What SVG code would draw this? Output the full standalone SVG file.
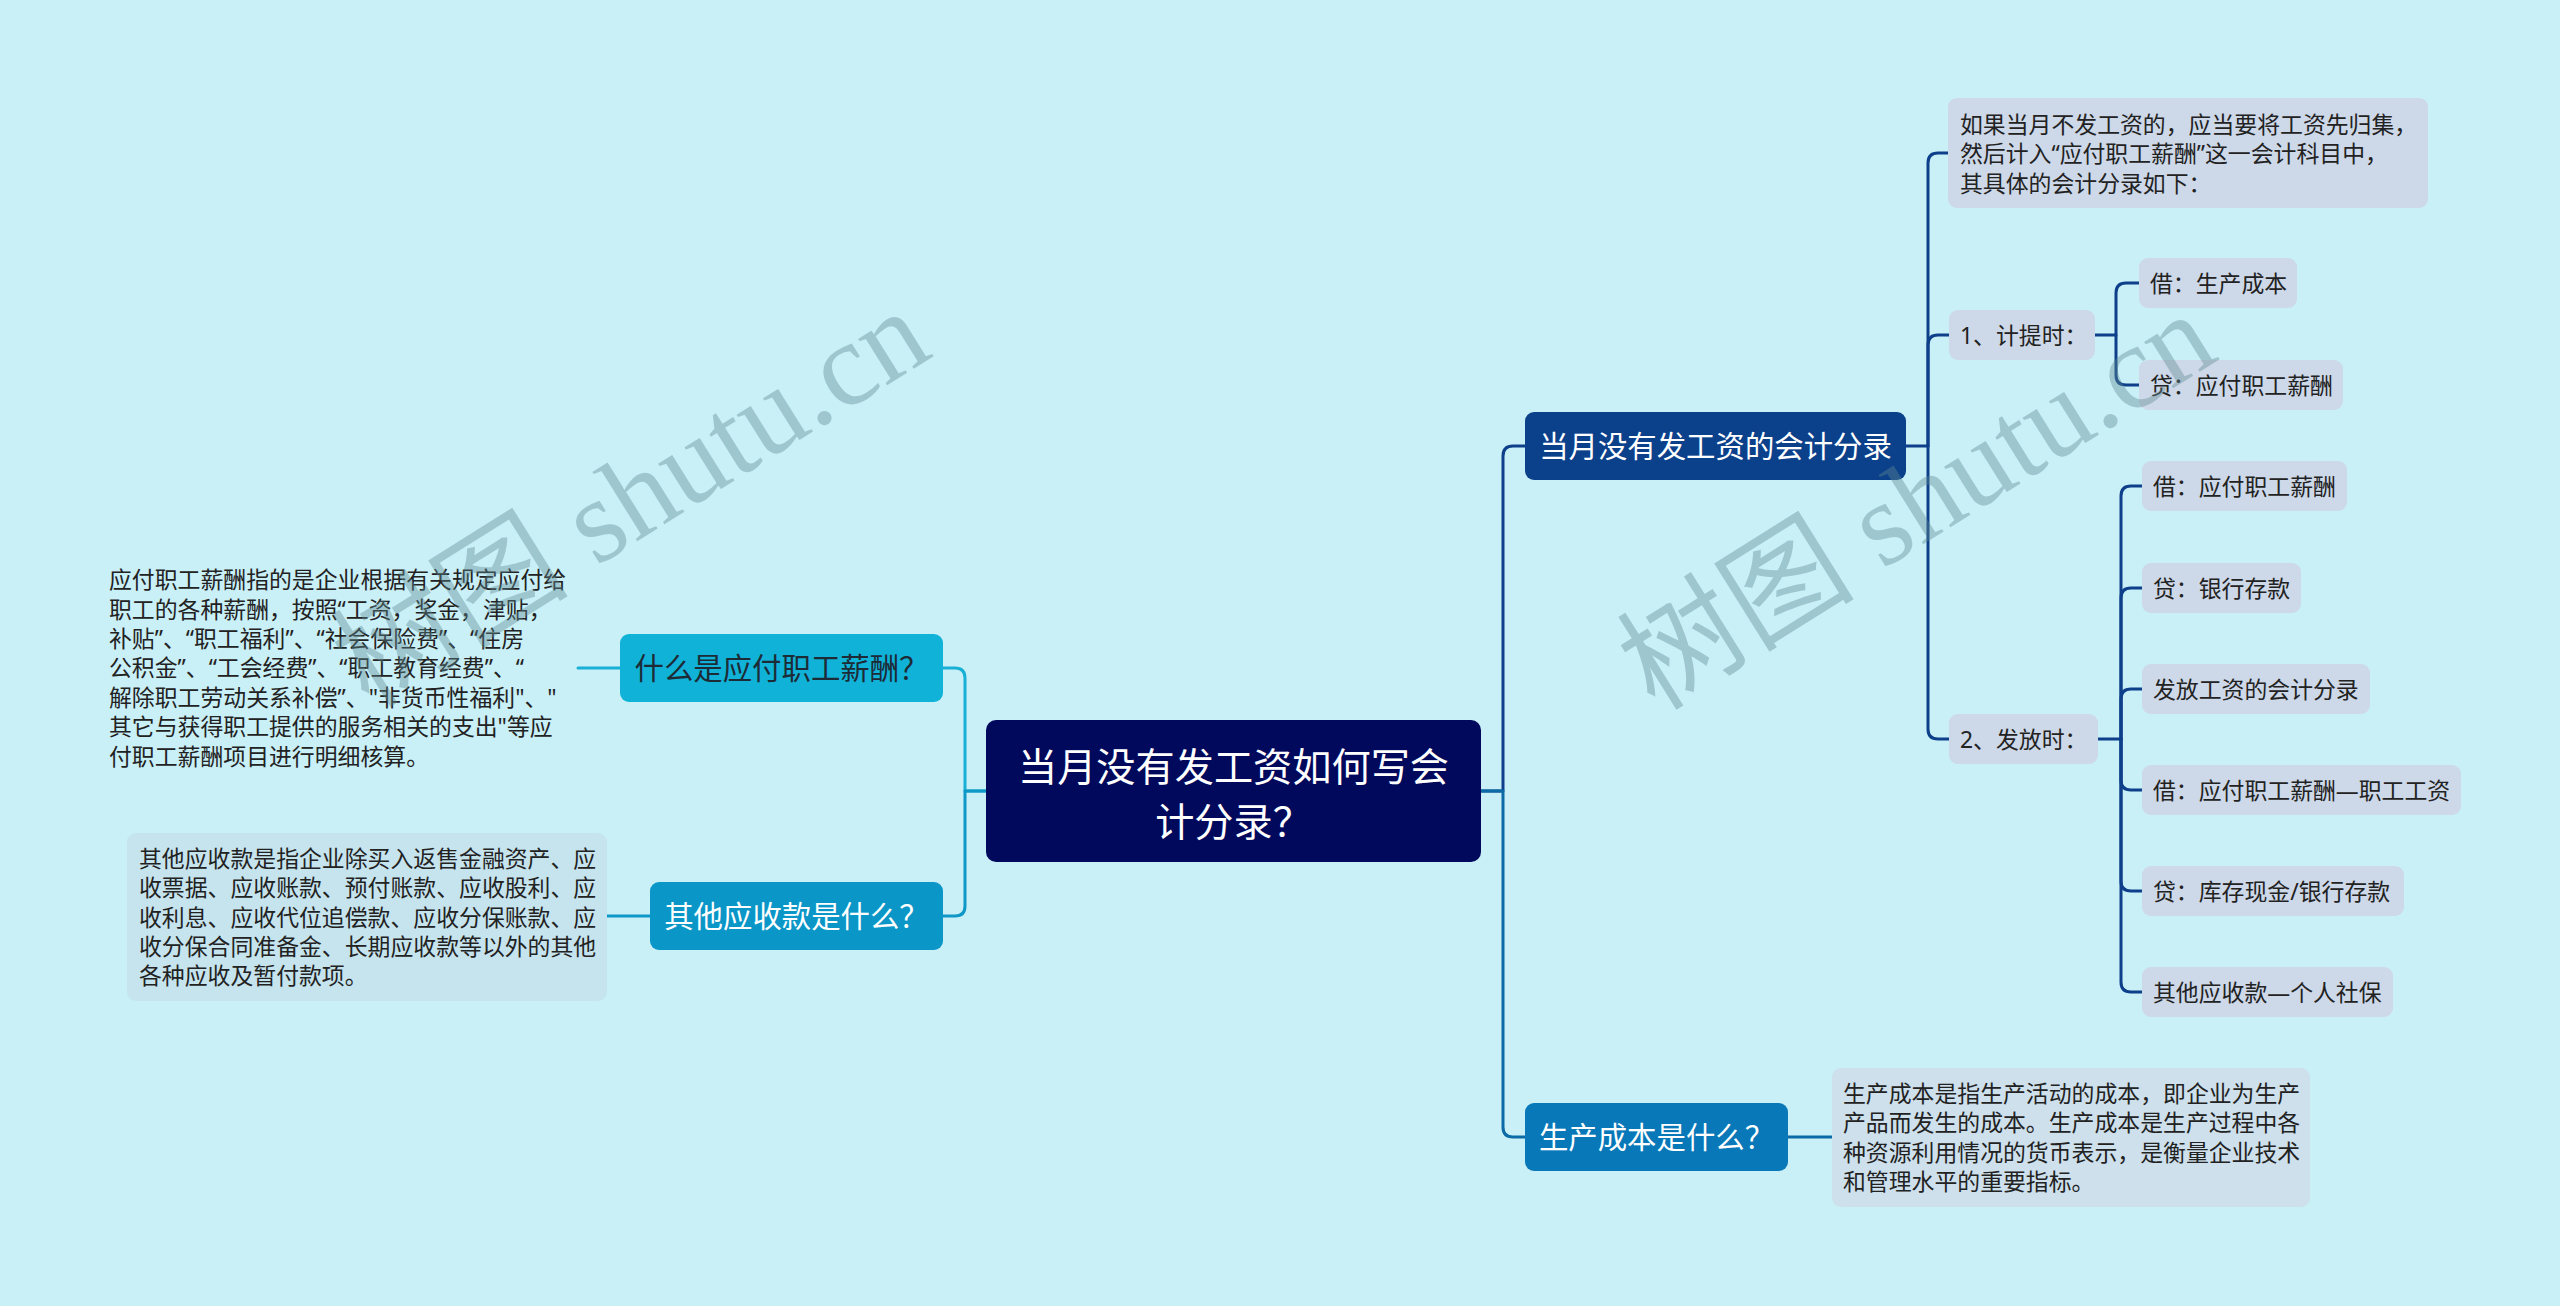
<svg xmlns="http://www.w3.org/2000/svg" width="2560" height="1306" viewBox="0 0 2560 1306">
<defs>
<style>
.body{font-family:'Noto Sans','Noto Sans CJK SC',sans-serif;font-size:22.86px;fill:#222;dominant-baseline:central}
.topic{font-family:'Noto Sans','Noto Sans CJK SC',sans-serif;font-size:29.4px;fill:#fff;dominant-baseline:central;text-anchor:middle}
.root{font-family:'Noto Sans','Noto Sans CJK SC',sans-serif;font-size:39.2px;fill:#fff;dominant-baseline:central;text-anchor:middle}
.leaf{fill:#cdd8e8}
.note{fill:#cde0ec}
.cn{fill:none;stroke-width:3;stroke-linecap:round;stroke-linejoin:round}
.dk{stroke:#0d3f8a}
.wm{font-family:'Liberation Serif','Noto Sans CJK SC',serif;font-size:119px;fill:#5f8a92;fill-opacity:0.4}
</style>
</defs>
<rect x="0" y="0" width="2560" height="1306" fill="#c9eff7"/>

<g id="connectors">
<path class="cn" stroke="#19b0d6" d="M986,791 H965 V678 Q965,668 955,668 H943"/>
<path class="cn" stroke="#0f97c8" d="M986,791 H965 V906 Q965,916 955,916 H943"/>
<path class="cn" stroke="#19b0d6" d="M620,668 H578"/>
<path class="cn" stroke="#0f97c8" d="M650,916 H607"/>
<path class="cn dk" d="M1481,791 H1503 V456 Q1503,446 1513,446 H1525"/>
<path class="cn" stroke="#0a6ba6" d="M1481,791 H1503 V1127 Q1503,1137 1513,1137 H1525"/>
<path class="cn" stroke="#0a6ba6" d="M1788,1137 H1832"/>
<path class="cn dk" d="M1906,446 H1928 V163 Q1928,153 1938,153 H1948"/>
<path class="cn dk" d="M1928,446 V345 Q1928,335 1938,335 H1949"/>
<path class="cn dk" d="M1928,446 V729 Q1928,739 1938,739 H1949"/>
<path class="cn dk" d="M2095,335 H2116 V293 Q2116,283 2126,283 H2139"/>
<path class="cn dk" d="M2116,335 V375 Q2116,385 2126,385 H2139"/>
<path class="cn dk" d="M2098,739 H2121 V496 Q2121,486 2131,486 H2142"/>
<path class="cn dk" d="M2121,739 V598 Q2121,588 2131,588 H2142"/>
<path class="cn dk" d="M2121,739 V699 Q2121,689 2131,689 H2142"/>
<path class="cn dk" d="M2121,739 V780 Q2121,790 2131,790 H2142"/>
<path class="cn dk" d="M2121,739 V881 Q2121,891 2131,891 H2142"/>
<path class="cn dk" d="M2121,739 V982 Q2121,992 2131,992 H2142"/>
</g>

<g id="root">
<rect x="986" y="720" width="495" height="142" rx="10" fill="#01095c"/>
<text class="root" x="1233.5" y="765">当月没有发工资如何写会</text>
<text class="root" x="1233.5" y="820">计分录？</text>
</g>

<g id="topic-left-1">
<rect x="620" y="634" width="323" height="68" rx="9" fill="#10b2d8"/>
<text class="topic" x="781.5" y="668" style="fill:#1d2b36">什么是应付职工薪酬？</text>
</g>
<g id="note-left-1">
<text class="body" x="109" y="579.7">应付职工薪酬指的是企业根据有关规定应付给</text>
<text class="body" x="109" y="609.1">职工的各种薪酬，按照“工资，奖金，津贴，</text>
<text class="body" x="109" y="638.5">补贴”、“职工福利”、“社会保险费”、“住房</text>
<text class="body" x="109" y="667.9">公积金”、“工会经费”、“职工教育经费”、“</text>
<text class="body" x="109" y="697.3">解除职工劳动关系补偿”、"非货币性福利"、"</text>
<text class="body" x="109" y="726.7">其它与获得职工提供的服务相关的支出"等应</text>
<text class="body" x="109" y="756.1">付职工薪酬项目进行明细核算。</text>
</g>

<g id="topic-left-2">
<rect x="650" y="882" width="293" height="68" rx="9" fill="#0a96c7"/>
<text class="topic" x="796.5" y="916">其他应收款是什么？</text>
</g>
<g id="note-left-2">
<rect x="127" y="833" width="480" height="168" rx="9" fill="#c6e4ee"/>
<text class="body" x="139" y="858.2">其他应收款是指企业除买入返售金融资产、应</text>
<text class="body" x="139" y="887.6">收票据、应收账款、预付账款、应收股利、应</text>
<text class="body" x="139" y="917">收利息、应收代位追偿款、应收分保账款、应</text>
<text class="body" x="139" y="946.4">收分保合同准备金、长期应收款等以外的其他</text>
<text class="body" x="139" y="975.8">各种应收及暂付款项。</text>
</g>

<g id="topic-right-1">
<rect x="1525" y="412" width="381" height="68" rx="9" fill="#0b408b"/>
<text class="topic" x="1715.5" y="446">当月没有发工资的会计分录</text>
</g>

<g id="note-right-top">
<rect x="1948" y="98" width="480" height="110" rx="9" class="leaf"/>
<text class="body" x="1960" y="124">如果当月不发工资的，应当要将工资先归集，</text>
<text class="body" x="1960" y="153.5">然后计入“应付职工薪酬”这一会计科目中，</text>
<text class="body" x="1960" y="183">其具体的会计分录如下：</text>
</g>

<g id="sub-1">
<rect x="1949" y="310" width="146" height="50" rx="9" class="leaf"/>
<text class="body" x="1960" y="335">1、计提时：</text>
</g>
<g id="sub-1-a">
<rect x="2139" y="258" width="158" height="50" rx="9" class="leaf"/>
<text class="body" x="2150" y="283">借：生产成本</text>
</g>
<g id="sub-1-b">
<rect x="2139" y="360" width="204" height="50" rx="9" class="leaf"/>
<text class="body" x="2150" y="385">贷：应付职工薪酬</text>
</g>

<g id="sub-2">
<rect x="1949" y="714" width="149" height="50" rx="9" class="leaf"/>
<text class="body" x="1960" y="739">2、发放时：</text>
</g>
<g id="sub-2-a">
<rect x="2142" y="461" width="205" height="50" rx="9" class="leaf"/>
<text class="body" x="2153" y="486">借：应付职工薪酬</text>
</g>
<g id="sub-2-b">
<rect x="2142" y="563" width="159" height="50" rx="9" class="leaf"/>
<text class="body" x="2153" y="588">贷：银行存款</text>
</g>
<g id="sub-2-c">
<rect x="2142" y="664" width="228" height="50" rx="9" class="leaf"/>
<text class="body" x="2153" y="689">发放工资的会计分录</text>
</g>
<g id="sub-2-d">
<rect x="2142" y="765" width="319" height="50" rx="9" class="leaf"/>
<text class="body" x="2153" y="790">借：应付职工薪酬—职工工资</text>
</g>
<g id="sub-2-e">
<rect x="2142" y="866" width="262" height="50" rx="9" class="leaf"/>
<text class="body" x="2153" y="891">贷：库存现金/银行存款</text>
</g>
<g id="sub-2-f">
<rect x="2142" y="967" width="251" height="50" rx="9" class="leaf"/>
<text class="body" x="2153" y="992">其他应收款—个人社保</text>
</g>

<g id="topic-right-2">
<rect x="1525" y="1103" width="263" height="68" rx="9" fill="#0878b8"/>
<text class="topic" x="1656.5" y="1137">生产成本是什么？</text>
</g>
<g id="note-right-2">
<rect x="1832" y="1068" width="478" height="139" rx="9" class="note"/>
<text class="body" x="1843" y="1093.2">生产成本是指生产活动的成本，即企业为生产</text>
<text class="body" x="1843" y="1122.6">产品而发生的成本。生产成本是生产过程中各</text>
<text class="body" x="1843" y="1152">种资源利用情况的货币表示，是衡量企业技术</text>
<text class="body" x="1843" y="1181.4">和管理水平的重要指标。</text>
</g>

<g id="watermark">
<text class="wm" x="369" y="709" transform="rotate(-32 369 709)">树图 shutu.cn</text>
<text class="wm" x="1655" y="712" transform="rotate(-32 1655 712)">树图 shutu.cn</text>
</g>
</svg>
